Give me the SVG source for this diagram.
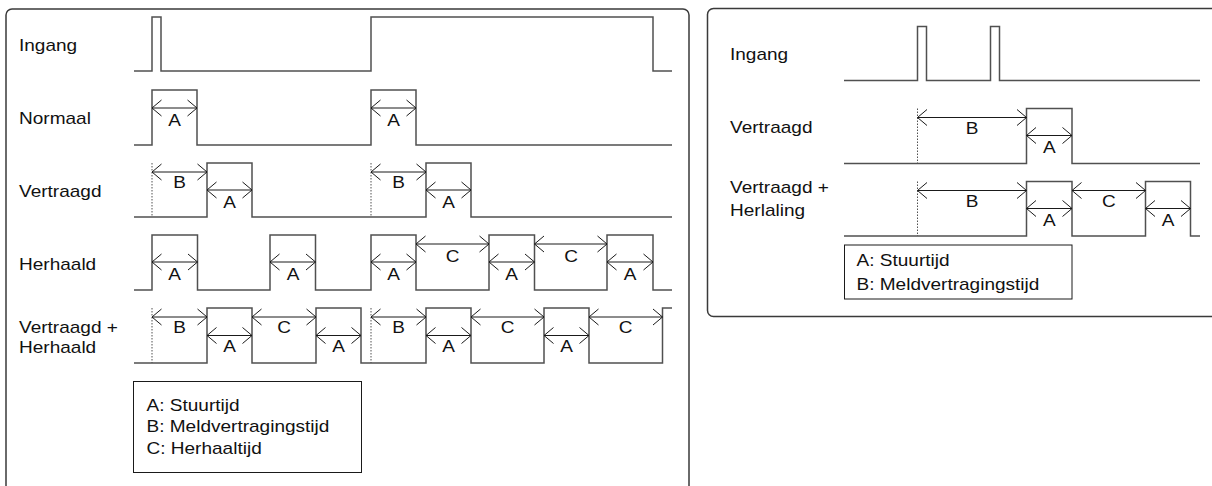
<svg xmlns="http://www.w3.org/2000/svg" width="1212" height="486" viewBox="0 0 1212 486">
<style>
.panel{fill:#fff;stroke:#3a3a3a;stroke-width:1.5}
.wave{fill:none;stroke:#505050;stroke-width:1.5}
.dot{stroke:#505050;stroke-width:1;stroke-dasharray:1.5 1.5}
.dim{stroke:#1a1a1a;stroke-width:1;marker-start:url(#ah);marker-end:url(#ah)}
.box{fill:#fff;stroke:#1a1a1a;stroke-width:1}
text{font-family:"Liberation Sans",Arial,sans-serif;font-size:17px;fill:#111}
.c{text-anchor:middle}
</style>
<defs>
<marker id="ah" viewBox="-12 -10 14 20" refX="0" refY="0" markerWidth="14" markerHeight="20" markerUnits="userSpaceOnUse" orient="auto-start-reverse">
<path d="M-9.5,-8 L0,0 L-9.5,8" fill="none" stroke="#1a1a1a" stroke-width="1"/>
</marker>
</defs>
<rect width="1212" height="486" fill="#fff"/>
<rect class="panel" x="6" y="9" width="683" height="500" rx="6"/>
<rect class="panel" x="707.5" y="8.5" width="530" height="308" rx="6"/>

<g id="left-ingang">
<text transform="translate(19 51) scale(1.12 1)">Ingang</text>
<path class="wave" d="M134,71 H152 V17 H161 V71 H371 V17 H653 V71 H672"/>
</g>
<g id="left-normaal">
<text transform="translate(19 124) scale(1.12 1)">Normaal</text>
<path class="wave" d="M134,145 H152 V90 H197 V145 H371 V90 H416 V145 H672"/>
<text class="c" transform="translate(174.5 126) scale(1.12 1)">A</text>
<text class="c" transform="translate(393.5 126) scale(1.12 1)">A</text>
</g>
<g id="left-vertraagd">
<text transform="translate(19 197) scale(1.12 1)">Vertraagd</text>
<path class="wave" d="M134,217 H207 V163 H252 V217 H426 V163 H471 V217 H672"/>
<line class="dot" x1="152" y1="163" x2="152" y2="217"/>
<line class="dot" x1="371" y1="163" x2="371" y2="217"/>
<text class="c" transform="translate(179.5 188) scale(1.12 1)">B</text>
<text class="c" transform="translate(229.5 208) scale(1.12 1)">A</text>
<text class="c" transform="translate(398.5 188) scale(1.12 1)">B</text>
<text class="c" transform="translate(448.5 208) scale(1.12 1)">A</text>
</g>
<g id="left-herhaald">
<text transform="translate(19 270) scale(1.12 1)">Herhaald</text>
<path class="wave" d="M134,290 H152 V235 H197.5 V290 H270 V235 H315.5 V290 H371 V235 H416 V290 H489 V235 H534.5 V290 H607 V235 H653 V290 H672"/>
<text class="c" transform="translate(174.5 280) scale(1.12 1)">A</text>
<text class="c" transform="translate(293 280) scale(1.12 1)">A</text>
<text class="c" transform="translate(393.5 280) scale(1.12 1)">A</text>
<text class="c" transform="translate(511.5 280) scale(1.12 1)">A</text>
<text class="c" transform="translate(630 280) scale(1.12 1)">A</text>
<text class="c" transform="translate(452.5 262) scale(1.12 1)">C</text>
<text class="c" transform="translate(571 262) scale(1.12 1)">C</text>
</g>
<g id="left-vertraagd-herhaald">
<text transform="translate(19 333) scale(1.12 1)">Vertraagd +</text>
<text transform="translate(19 353) scale(1.12 1)">Herhaald</text>
<path class="wave" d="M134,363 H207 V308 H252 V363 H316 V308 H361 V363 H426 V308 H471 V363 H544 V308 H589 V363 H662.5 V308 H672"/>
<line class="dot" x1="152" y1="308" x2="152" y2="363"/>
<line class="dot" x1="371" y1="308" x2="371" y2="363"/>
<text class="c" transform="translate(179.5 333) scale(1.12 1)">B</text>
<text class="c" transform="translate(284 333) scale(1.12 1)">C</text>
<text class="c" transform="translate(398.5 333) scale(1.12 1)">B</text>
<text class="c" transform="translate(507.5 333) scale(1.12 1)">C</text>
<text class="c" transform="translate(625.5 333) scale(1.12 1)">C</text>
<text class="c" transform="translate(229.5 352) scale(1.12 1)">A</text>
<text class="c" transform="translate(338.5 352) scale(1.12 1)">A</text>
<text class="c" transform="translate(448.5 352) scale(1.12 1)">A</text>
<text class="c" transform="translate(566.5 352) scale(1.12 1)">A</text>
</g>
<g id="left-legend">
<rect class="box" x="133.5" y="381.5" width="228" height="91"/>
<text transform="translate(146.5 410.5) scale(1.12 1)">A: Stuurtijd</text>
<text transform="translate(146.5 432) scale(1.12 1)">B: Meldvertragingstijd</text>
<text transform="translate(146.5 453.5) scale(1.12 1)">C: Herhaaltijd</text>
</g>

<g id="right-ingang">
<text transform="translate(730 60) scale(1.12 1)">Ingang</text>
<path class="wave" d="M844,80.5 H917.5 V26.5 H926.5 V80.5 H990.5 V26.5 H999.5 V80.5 H1200"/>
</g>
<g id="right-vertraagd">
<text transform="translate(730 132.5) scale(1.12 1)">Vertraagd</text>
<path class="wave" d="M844,163.5 H1026.5 V108.5 H1072 V163.5 H1200"/>
<line class="dot" x1="917.5" y1="108.5" x2="917.5" y2="163.5"/>
<text class="c" transform="translate(972 134) scale(1.12 1)">B</text>
<text class="c" transform="translate(1049.3 152.5) scale(1.12 1)">A</text>
</g>
<g id="right-vertraagd-herlaling">
<text transform="translate(730 193) scale(1.12 1)">Vertraagd +</text>
<text transform="translate(730 216) scale(1.12 1)">Herlaling</text>
<path class="wave" d="M844,236 H1026.5 V181.5 H1072 V236 H1145.5 V181.5 H1190.5 V236 H1200"/>
<line class="dot" x1="917.5" y1="181.5" x2="917.5" y2="236"/>
<text class="c" transform="translate(972 207) scale(1.12 1)">B</text>
<text class="c" transform="translate(1049.3 226) scale(1.12 1)">A</text>
<text class="c" transform="translate(1108.8 207) scale(1.12 1)">C</text>
<text class="c" transform="translate(1168 226) scale(1.12 1)">A</text>
</g>
<g id="right-legend">
<rect class="box" x="844.5" y="245" width="227.5" height="54"/>
<text transform="translate(856.5 266) scale(1.12 1)">A: Stuurtijd</text>
<text transform="translate(856.5 289.5) scale(1.12 1)">B: Meldvertragingstijd</text>
</g>

<g id="connectors">
<line class="dim" x1="152" y1="108" x2="197" y2="108"/>
<line class="dim" x1="371" y1="108" x2="416" y2="108"/>
<line class="dim" x1="152" y1="172" x2="207" y2="172"/>
<line class="dim" x1="207" y1="190" x2="252" y2="190"/>
<line class="dim" x1="371" y1="172" x2="426" y2="172"/>
<line class="dim" x1="426" y1="190" x2="471" y2="190"/>
<line class="dim" x1="152" y1="262" x2="197.5" y2="262"/>
<line class="dim" x1="270" y1="262" x2="315.5" y2="262"/>
<line class="dim" x1="371" y1="262" x2="416" y2="262"/>
<line class="dim" x1="489" y1="262" x2="534.5" y2="262"/>
<line class="dim" x1="607" y1="262" x2="653" y2="262"/>
<line class="dim" x1="416" y1="244" x2="489" y2="244"/>
<line class="dim" x1="534.5" y1="244" x2="607" y2="244"/>
<line class="dim" x1="152" y1="317" x2="207" y2="317"/>
<line class="dim" x1="252" y1="317" x2="316" y2="317"/>
<line class="dim" x1="371" y1="317" x2="426" y2="317"/>
<line class="dim" x1="471" y1="317" x2="544" y2="317"/>
<line class="dim" x1="589" y1="317" x2="662.5" y2="317"/>
<line class="dim" x1="207" y1="335.5" x2="252" y2="335.5"/>
<line class="dim" x1="316" y1="335.5" x2="361" y2="335.5"/>
<line class="dim" x1="426" y1="335.5" x2="471" y2="335.5"/>
<line class="dim" x1="544" y1="335.5" x2="589" y2="335.5"/>
<line class="dim" x1="917.5" y1="117.5" x2="1026.5" y2="117.5"/>
<line class="dim" x1="1026.5" y1="135.5" x2="1072" y2="135.5"/>
<line class="dim" x1="917.5" y1="190.5" x2="1026.5" y2="190.5"/>
<line class="dim" x1="1026.5" y1="208.5" x2="1072" y2="208.5"/>
<line class="dim" x1="1072" y1="190.5" x2="1145.5" y2="190.5"/>
<line class="dim" x1="1145.5" y1="208.5" x2="1190.5" y2="208.5"/>
</g>
</svg>
